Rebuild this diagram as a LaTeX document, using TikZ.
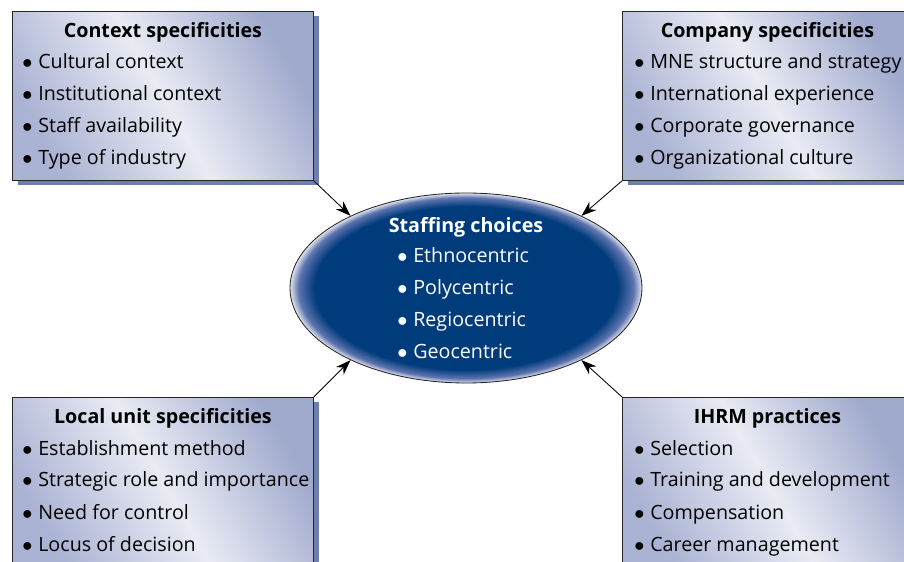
\documentclass[tikz,border=0pt]{standalone}
\usepackage{fontspec}
\setmainfont{Open Sans}
\usetikzlibrary{positioning,calc,shapes.geometric,arrows.meta,shadows}

\definecolor{boxl}{HTML}{AAB3D3}
\definecolor{boxm}{HTML}{E9EBF4}
\definecolor{boxr}{HTML}{A0AACD}
\definecolor{boxshadow}{HTML}{6E7EAE}
\definecolor{staffblue}{HTML}{003B7C}
\definecolor{staffmid}{HTML}{5D74AE}
\definecolor{staffrim}{HTML}{E2E5F0}

\pgfdeclareradialshading{staffglow}{\pgfpoint{0bp}{0bp}}{%
  color(0bp)=(staffblue); color(21.5bp)=(staffblue);
  color(23.8bp)=(staffmid); color(25bp)=(staffrim); color(50bp)=(staffrim)}

\newcommand\diagfont{\fontsize{14}{17}\selectfont}
\newcommand\itembullet{\makebox[0.4cm][l]{$\bullet$}}

\tikzset{
  infobox/.style={draw=black!85, line width=0.6pt, anchor=north west,
    minimum width=7.525cm, minimum height=4.225cm,
    left color=boxl, right color=boxr, middle color=boxm, shading angle=120,
    drop shadow={shadow xshift=0.13cm, shadow yshift=-0.12cm,
      fill=boxshadow, opacity=1}},
  boxtitle/.style={font=\diagfont\bfseries, anchor=base, inner sep=0pt},
  boxitem/.style={anchor=base west, inner sep=0pt},
  staffell/.style={ellipse, draw=black!85, line width=0.6pt,
    minimum width=8.8cm, minimum height=4.75cm, shade, shading=staffglow},
  stftitle/.style={boxtitle, text=white},
  stfitem/.style={boxitem, text=white},
  feed/.style={-{Stealth[length=0.38cm, width=0.27cm]}, line width=0.6pt}
}

\begin{document}
\begin{tikzpicture}[font=\diagfont]
  \path[use as bounding box, clip] (0,0) rectangle (22.6,14.025);

  % the four boxes
  \node[infobox] (ctx) at (0.3,13.75) {};
  \node[infobox, minimum width=7.25cm] (cmp) at (15.55,13.75) {};
  \node[infobox] (loc) at (0.3,4.1) {};
  \node[infobox, minimum width=7.25cm] (ihr) at (15.55,4.1) {};

  \node[boxtitle] (ctxT) at ($(ctx.north)+(0,-0.675)$) {Context specificities};
  \foreach \txt [count=\i] in {Cultural context, Institutional context,
      Staff availability, Type of industry}
    \node[boxitem] (ctx\i) at ($(ctx.north west)+(0.25,-0.65-0.8*\i)$)
      {\itembullet\txt};

  \node[boxtitle] (cmpT) at ($(cmp.north)+(0,-0.675)$) {Company specificities};
  \foreach \txt [count=\i] in {MNE structure and strategy,
      International experience, Corporate governance, Organizational culture}
    \node[boxitem] (cmp\i) at ($(cmp.north west)+(0.3,-0.65-0.8*\i)$)
      {\itembullet\txt};

  \node[boxtitle] (locT) at ($(loc.north)+(0,-0.675)$) {Local unit specificities};
  \foreach \txt [count=\i] in {Establishment method,
      Strategic role and importance, Need for control, Locus of decision}
    \node[boxitem] (loc\i) at ($(loc.north west)+(0.25,-0.65-0.8*\i)$)
      {\itembullet\txt};

  \node[boxtitle] (ihrT) at ($(ihr.north)+(0,-0.675)$) {IHRM practices};
  \foreach \txt [count=\i] in {Selection, Training and development,
      Compensation, Career management}
    \node[boxitem] (ihr\i) at ($(ihr.north west)+(0.3,-0.65-0.8*\i)$)
      {\itembullet\txt};

  % staffing choices
  \node[staffell] (stf) at (11.65,6.825) {};
  \node[stftitle] (stfT) at ($(stf)+(0,1.375)$) {Staffing choices};
  \foreach \txt [count=\i] in {Ethnocentric, Polycentric, Regiocentric,
      Geocentric}
    \node[stfitem] (stf\i) at ($(stf)+(-1.725,1.425-0.8*\i)$)
      {\itembullet\txt};

  \draw[feed] (ctx.south east) -- (stf.148);
  \draw[feed] (cmp.south west) -- (stf.32);
  \draw[feed] (loc.north east) -- (stf.212);
  \draw[feed] (ihr.north west) -- (stf.328);
\end{tikzpicture}
\end{document}
